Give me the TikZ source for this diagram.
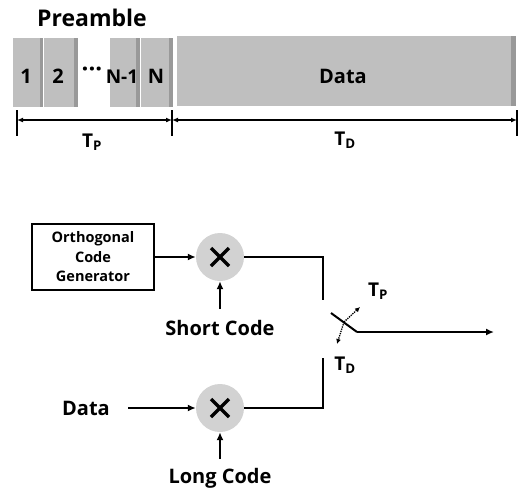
\documentclass[tikz,border=0pt]{standalone}
\usepackage{fontspec}
\setmainfont{Open Sans}
\usetikzlibrary{arrows.meta}
\begin{document}
\begin{tikzpicture}[x=1pt,y=-1pt,
  lbl/.style={font=\bfseries\fontsize{19}{22}\selectfont, inner sep=0pt},
  big/.style={lbl, font=\bfseries\fontsize{20}{22}\selectfont},
  blk/.style={fill=gray!50, draw=none},
  edge/.style={fill=gray!80, draw=none},
  wire/.style={line width=2pt},
  arr/.style={line width=2pt,-{Latex[length=8pt,width=7pt]}},
  mult/.style={circle, fill=gray!35, minimum size=48pt, inner sep=0pt},
  dim/.style={line width=1.4pt,{Latex[length=6pt,width=5pt]}-{Latex[length=6pt,width=5pt]}},
  tick/.style={line width=1.6pt}]
\useasboundingbox (0,0) rectangle (522,491);

% ---- frame ----
\node[lbl, font=\bfseries\fontsize{23}{26}\selectfont] (pre) at (92,18) {Preamble};
\fill[blk] (13,38) rectangle (42,107);
\fill[edge] (40,38) rectangle (43,107);
\fill[blk] (44,38) rectangle (77,107);
\fill[edge] (74,38) rectangle (78,107);
\fill[blk] (110,38) rectangle (139,107);
\fill[edge] (136,38) rectangle (140,107);
\fill[blk] (141,38) rectangle (172,107);
\fill[edge] (169,38) rectangle (173,107);
\fill[blk] (177,36) rectangle (515,106);
\fill[edge] (511,36) rectangle (516,106);
\node[big] (b1) at (26,76) {1};
\node[big] (b2) at (58,76) {2};
\node[big, font=\bfseries\fontsize{24}{24}\selectfont] (dots) at (92,72) {···};
\node[big, font=\bfseries\fontsize{19}{22}\selectfont] (bn1) at (122,77) {N-1};
\node[big] (bn) at (156,76) {N};
\node[big] (bd) at (343,76) {Data};

% ---- timing ----
\coordinate (t0) at (17,120);
\coordinate (t1) at (172,120);
\coordinate (t2) at (517,120);
\draw[tick] (17,110) -- (17,136);
\draw[tick] (172,110) -- (172,136);
\draw[tick] (517,110) -- (517,136);
\draw[dim] (t0) -- (t1);
\draw[dim] (t1) -- (t2);
\node[lbl] (tp) at (92,142) {T\textsubscript{P}};
\node[lbl] (td) at (345,140) {T\textsubscript{D}};

% ---- transmitter ----
\node[draw, line width=2pt, minimum width=122pt, minimum height=66pt, inner sep=0pt,
      align=center, font=\bfseries\fontsize{14.5}{19.5}\selectfont] (ocg) at (93,257)
      {Orthogonal\\Code\\Generator};
\node[mult] (m1) at (220,257) {};
\node[mult] (m2) at (220,408) {};
\foreach \m in {m1,m2}{
  \draw[line width=3.2pt] ([shift={(-9,-9)}]\m.center) -- ([shift={(9,9)}]\m.center);
  \draw[line width=3.2pt] ([shift={(-9,9)}]\m.center) -- ([shift={(9,-9)}]\m.center);
}
\draw[arr] (ocg.east) -- (m1.west);
\node[lbl, font=\bfseries\fontsize{20}{22}\selectfont] (sc) at (220,328) {Short Code};
\draw[arr] (220,309) -- (m1.south);
\node[lbl, font=\bfseries\fontsize{20}{22}\selectfont] (lc) at (220,478) {Long Code};
\draw[arr] (220,459) -- (m2.south);
\node[lbl, font=\bfseries\fontsize{20}{22}\selectfont] (din) at (86,408) {Data};
\draw[arr] (128,408) -- (m2.west);

% switch
\coordinate (sa) at (323,300);
\coordinate (sb) at (323,358);
\coordinate (s1) at (331,313);
\coordinate (s2) at (357,332);
\coordinate (out) at (494,332);
\draw[wire] (m1.east) -| (sa);
\draw[wire] (m2.east) -| (sb);
\draw[wire] (s1) -- (s2);
\draw[arr] (s2) -- (out);
\coordinate (sm) at (344,322);
\draw[line width=1.3pt, densely dotted, -{Latex[length=5pt,width=5pt]}] (sm) -- (360,307);
\draw[line width=1.3pt, densely dotted, -{Latex[length=5pt,width=5pt]}] (sm) -- (337,344);
\node[lbl] (swp) at (378,291) {T\textsubscript{P}};
\node[lbl] (swd) at (345,365) {T\textsubscript{D}};
\end{tikzpicture}
\end{document}
